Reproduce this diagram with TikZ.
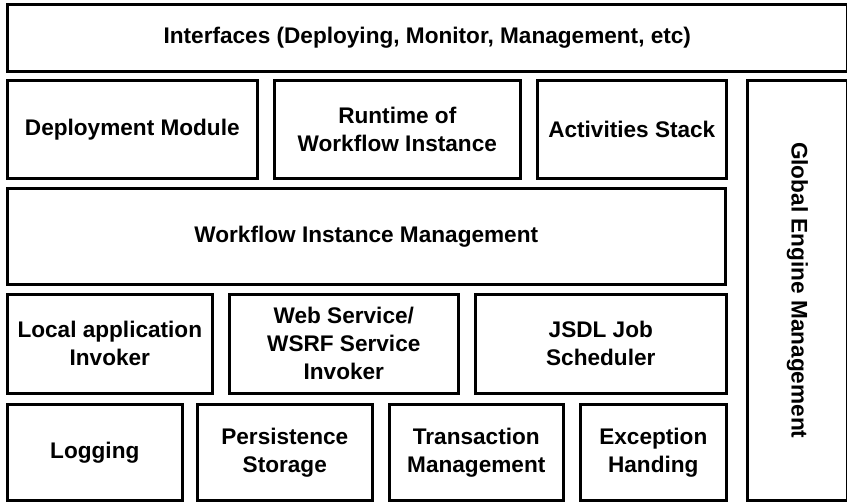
\documentclass[tikz,border=0pt]{standalone}
\usepackage{fontspec}
\setmainfont{Liberation Sans}
\begin{document}
\begin{tikzpicture}[x=1pt,y=-1pt,
  blk/.style={draw=black, line width=2.6pt, fill=white, inner sep=0pt,
    align=center, anchor=north west,
    font=\bfseries\fontsize{22.6}{28}\selectfont}]
\useasboundingbox (0,0) rectangle (847,502);
% #1 name, (#2,#3) top-left corner, (#4,#5) bottom-right corner, #6 label
\newcommand\archblock[6]{%
  \node[blk, minimum width={(#4-#2)*1pt}, minimum height={(#5-#3)*1pt}]
    (#1) at (#2,#3) {#6};}
% top interface layer
\archblock{ifc}{6}{3}{846}{70}{Interfaces (Deploying, Monitor, Management, etc)}
% runtime layer
\archblock{dep}{6}{79}{256}{177}{Deployment Module}
\archblock{rt}{273}{79}{519}{177}{Runtime of\\Workflow Instance}
\archblock{act}{536}{79}{725}{177}{Activities Stack}
% instance management
\archblock{wim}{6}{187}{724}{283}{Workflow Instance Management}
% invokers
\archblock{loc}{6}{293}{211}{392}{Local application\\Invoker}
\archblock{ws}{228}{293}{457}{392}{Web Service/\\WSRF Service\\Invoker}
\archblock{jsdl}{474}{293}{725}{392}{JSDL Job\\Scheduler}
% base services
\archblock{log}{6}{403}{181}{499}{Logging}
\archblock{per}{196}{403}{371}{499}{Persistence\\Storage}
\archblock{tx}{388}{403}{562}{499}{Transaction\\Management}
\archblock{exc}{579}{403}{725}{499}{Exception\\Handing}
% global management column
\node[blk, minimum width=100pt, minimum height=420pt] (gem) at (746,79) {};
\node[font=\bfseries\fontsize{22.6}{28}\selectfont, rotate=-90]
  (gemlabel) at (gem.center) {Global Engine Management};
\end{tikzpicture}
\end{document}
